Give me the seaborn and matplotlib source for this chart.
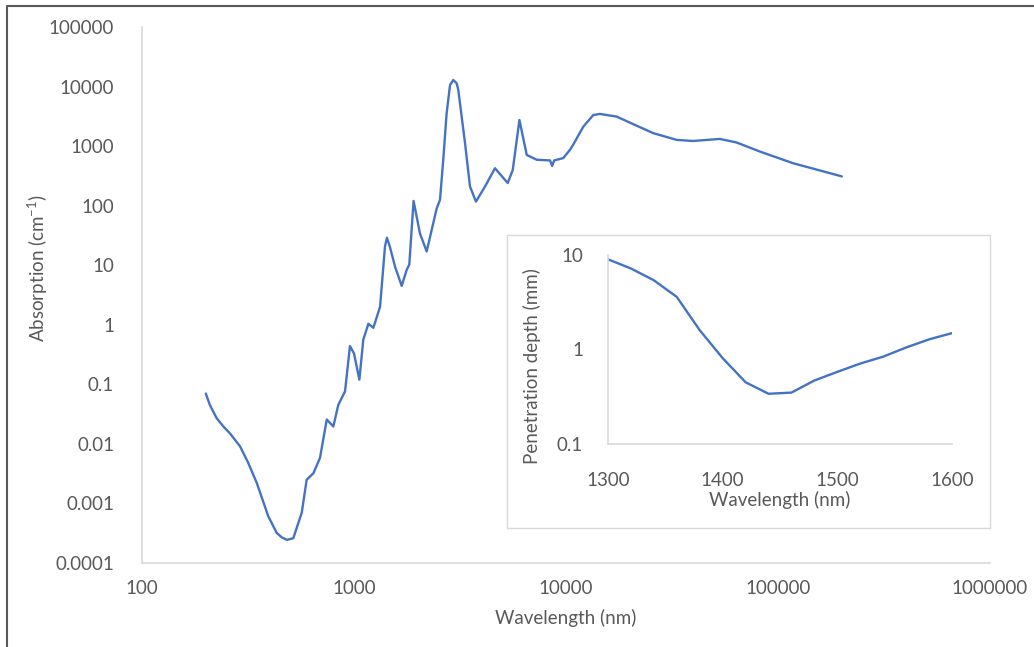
import matplotlib
matplotlib.use("Agg")
import matplotlib.pyplot as plt
from matplotlib.ticker import LogLocator, FixedLocator, NullFormatter, FuncFormatter, MultipleLocator
from matplotlib.patches import Rectangle
from matplotlib.lines import Line2D
import seaborn as sns
import pandas as pd

# absorption spectrum (nm, cm^-1)
wavelength = [200, 209, 225, 242, 260, 290, 317, 348, 394, 432, 456, 482, 517, 567, 598, 643, 691,
              744, 799, 843, 907, 957, 1000, 1060, 1106, 1169, 1234, 1327, 1400, 1430, 1479, 1561,
              1679, 1773, 1823, 1910, 2048, 2202, 2455, 2545, 2636, 2735, 2838, 2940, 3050, 3104,
              3340, 3525, 3760, 4150, 4625, 5310, 5610, 6030, 6530, 7280, 8410, 8600, 8800, 9710,
              10450, 10800, 12080, 13450, 14450, 17340, 20000, 25800, 33300, 39800, 53200, 63800,
              82200, 118000, 200000]
absorption = [0.07, 0.045, 0.027, 0.0196, 0.015, 0.0091, 0.0048, 0.0022, 0.00061, 0.00032,
              0.00027, 0.000245, 0.00026, 0.0007, 0.0025, 0.0032, 0.0058, 0.0256, 0.0196, 0.045,
              0.076, 0.44, 0.33, 0.12, 0.56, 1.04, 0.89, 2.0, 20.6, 29, 20, 9.5, 4.5, 8.4, 10.2,
              120, 34, 17, 90, 125, 590, 3560, 10600, 12900, 11350, 8770, 1120, 210, 117, 210,
              425, 240, 400, 2750, 710, 590, 575, 465, 575, 630, 870, 1050, 2130, 3330, 3470,
              3130, 2480, 1650, 1270, 1220, 1320, 1150, 810, 515, 310]

# inset: penetration depth (mm)
inset_wl = [1300, 1320, 1340, 1360, 1380, 1400, 1420, 1440, 1460, 1480, 1500, 1520, 1540, 1560, 1580, 1600]
depth = [9.0, 7.2, 5.4, 3.6, 1.6, 0.81, 0.45, 0.34, 0.35, 0.47, 0.58, 0.71, 0.84, 1.05, 1.28, 1.49]

main_df = pd.DataFrame({"wl": wavelength, "abs": absorption})
inset_df = pd.DataFrame({"wl": inset_wl, "depth": depth})

sns.set_style("white")
plt.rcParams["font.family"] = ["Lato", "DejaVu Sans"]
plt.rcParams["mathtext.fontset"] = "custom"
plt.rcParams["mathtext.rm"] = "Lato"
plt.rcParams["mathtext.it"] = "Lato:italic"

text_c = "#595959"
axis_c = "#d9d9d9"
line_c = "#4472C4"
fs = 13.5

W, H = 1034, 647
fig = plt.figure(figsize=(W / 100, H / 100), dpi=100)

# ---------------------------------------------------------------- main chart
ax = fig.add_axes([142 / W, 1 - 563 / H, 848 / W, 536 / H])
sns.lineplot(data=main_df, x="wl", y="abs", ax=ax, color=line_c, linewidth=1.7,
             sort=False, estimator=None)
ax.lines[0].set_solid_joinstyle("round")
ax.set_xscale("log")
ax.set_yscale("log")
ax.set_xlim(100, 1e6)
ax.set_ylim(1e-4, 1e5)

plain = FuncFormatter(lambda v, p: ("%g" % v) if v >= 1 else ("%.10f" % v).rstrip("0"))
ax.xaxis.set_major_locator(LogLocator(base=10, numticks=20))
ax.yaxis.set_major_locator(LogLocator(base=10, numticks=20))
ax.xaxis.set_minor_locator(LogLocator(base=10, subs=range(2, 10), numticks=20))
ax.yaxis.set_minor_locator(LogLocator(base=10, subs=range(2, 10), numticks=20))
ax.xaxis.set_major_formatter(FuncFormatter(lambda v, p: "%d" % round(v)))
ax.yaxis.set_major_formatter(plain)
ax.xaxis.set_minor_formatter(NullFormatter())
ax.yaxis.set_minor_formatter(NullFormatter())

for s in ["top", "right"]:
    ax.spines[s].set_visible(False)
for s in ["left", "bottom"]:
    ax.spines[s].set_color(axis_c)
    ax.spines[s].set_linewidth(1.2)
ax.tick_params(axis="both", which="both", direction="in", color=axis_c, labelcolor=text_c,
               labelsize=fs)
ax.tick_params(axis="both", which="major", length=5, width=1)
ax.tick_params(axis="both", which="minor", length=3, width=0.8)
ax.tick_params(axis="y", pad=20)
ax.tick_params(axis="x", pad=12)

ax.set_xlabel("Wavelength (nm)", fontsize=fs, color=text_c)
ax.set_ylabel("Absorption (cm$^{-1}$)", fontsize=fs, color=text_c)
ax.xaxis.set_label_coords(0.5, -0.085)
ax.yaxis.set_label_coords(-0.108, 0.55)

# ---------------------------------------------------------------- inset frame
fig.patches.append(Rectangle((507 / W, 1 - 528 / H), 483 / W, 293 / H, transform=fig.transFigure,
                             facecolor="white", edgecolor=axis_c, linewidth=1.0, zorder=2))

# ---------------------------------------------------------------- inset chart
ins = fig.add_axes([608 / W, 1 - 444 / H, 344 / W, 189 / H], zorder=3)
ins.patch.set_alpha(0)
sns.lineplot(data=inset_df, x="wl", y="depth", ax=ins, color=line_c, linewidth=1.7)
ins.set_yscale("log")
ins.set_xlim(1300, 1600)
ins.set_ylim(0.1, 10)
ins.xaxis.set_major_locator(FixedLocator([1300, 1400, 1500, 1600]))
ins.xaxis.set_minor_locator(MultipleLocator(20))
ins.yaxis.set_major_locator(FixedLocator([0.1, 1, 10]))
ins.yaxis.set_minor_locator(LogLocator(base=10, subs=range(2, 10), numticks=10))
ins.yaxis.set_major_formatter(FuncFormatter(lambda v, p: "%g" % v))
ins.yaxis.set_minor_formatter(NullFormatter())

for s in ["top", "right"]:
    ins.spines[s].set_visible(False)
for s in ["left", "bottom"]:
    ins.spines[s].set_color(axis_c)
    ins.spines[s].set_linewidth(1.2)
ins.tick_params(axis="both", which="both", direction="in", color=axis_c, labelcolor=text_c,
                labelsize=fs)
ins.tick_params(axis="both", which="major", length=5, width=1)
ins.tick_params(axis="both", which="minor", length=3, width=0.8)
ins.tick_params(axis="y", pad=18)
ins.tick_params(axis="x", pad=20)
ins.set_xlabel("Wavelength (nm)", fontsize=fs, color=text_c)
ins.set_ylabel("Penetration depth (mm)", fontsize=fs, color=text_c)
ins.xaxis.set_label_coords(0.5, -0.25)
ins.yaxis.set_label_coords(-0.195, 0.413)

# ---------------------------------------------------------------- page border (top and left)
bx, by = 7 / W, 1 - 5.5 / H
fig.lines.append(Line2D([bx, bx, 1], [0, by, by], transform=fig.transFigure,
                        color="#595959", linewidth=1.5))

fig.savefig("out.png", dpi=100)
